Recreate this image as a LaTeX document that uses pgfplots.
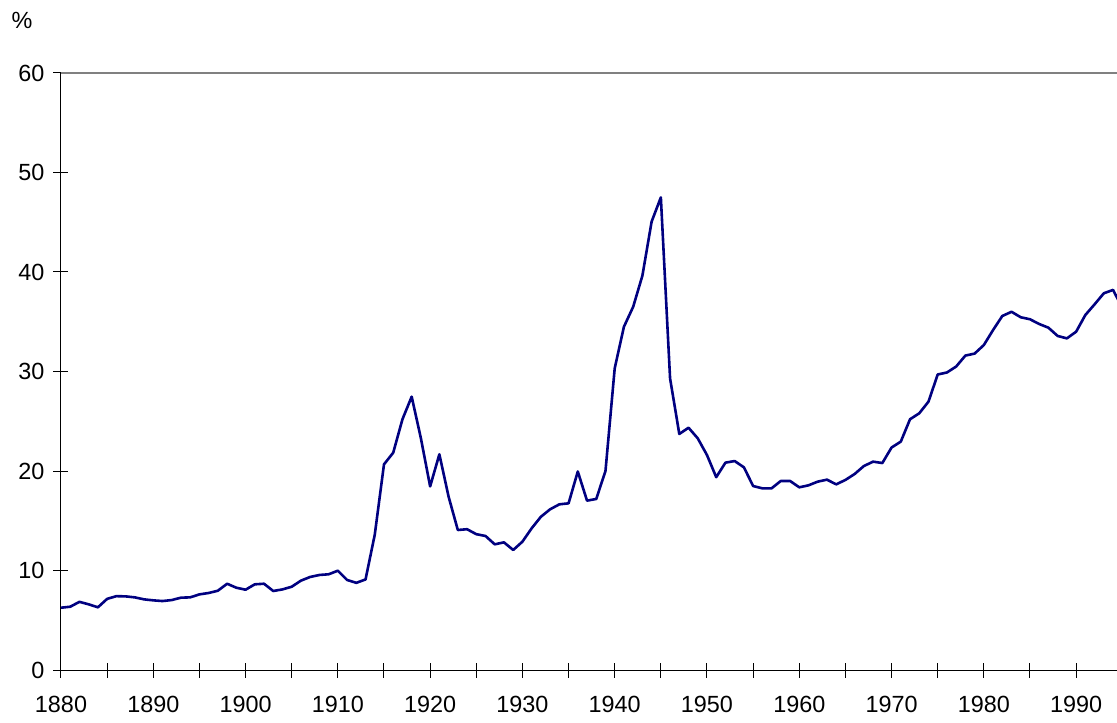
\documentclass[border=0pt]{standalone}
\usepackage{pgfplots}
\pgfplotsset{compat=1.18}
\usepackage{pgfplotstable}
\usepackage{fontspec}
\setmainfont{Liberation Sans}
\definecolor{navyline}{RGB}{0,0,128}
\pgfplotstableread{
year val
1880 6.26
1881 6.36
1882 6.85
1883 6.6
1884 6.3
1885 7.15
1886 7.42
1887 7.4
1888 7.3
1889 7.1
1890 7.0
1891 6.93
1892 7.03
1893 7.27
1894 7.3
1895 7.6
1896 7.74
1897 7.97
1898 8.67
1899 8.27
1900 8.07
1901 8.61
1902 8.67
1903 7.94
1904 8.1
1905 8.37
1906 8.98
1907 9.35
1908 9.55
1909 9.62
1910 9.98
1911 9.05
1912 8.76
1913 9.1
1914 13.6
1915 20.67
1916 21.84
1917 25.2
1918 27.47
1919 23.28
1920 18.45
1921 21.68
1922 17.42
1923 14.07
1924 14.15
1925 13.65
1926 13.47
1927 12.63
1928 12.83
1929 12.06
1930 12.9
1931 14.24
1932 15.4
1933 16.15
1934 16.65
1935 16.75
1936 19.95
1937 17.02
1938 17.19
1939 20.0
1940 30.32
1941 34.5
1942 36.5
1943 39.63
1944 45.06
1945 47.5
1946 29.3
1947 23.72
1948 24.35
1949 23.28
1950 21.6
1951 19.38
1952 20.84
1953 21.0
1954 20.37
1955 18.49
1956 18.26
1957 18.26
1958 19.0
1959 19.0
1960 18.36
1961 18.56
1962 18.93
1963 19.13
1964 18.66
1965 19.1
1966 19.7
1967 20.5
1968 20.94
1969 20.8
1970 22.36
1971 22.95
1972 25.2
1973 25.8
1974 26.97
1975 29.7
1976 29.9
1977 30.5
1978 31.6
1979 31.8
1980 32.66
1981 34.17
1982 35.58
1983 36.0
1984 35.45
1985 35.25
1986 34.77
1987 34.4
1988 33.57
1989 33.33
1990 34.0
1991 35.68
1992 36.75
1993 37.86
1994 38.2
1995 36.4
}\datatable
\begin{document}
\begin{tikzpicture}
\begin{axis}[
  at={(0,0)}, anchor=south west,
  scale only axis,
  width=528pt, height=298.5pt,
  xmin=1880, xmax=1994.43,
  ymin=0, ymax=60,
  axis x line*=bottom, axis y line*=left,
  axis line style={black, line width=0.5pt, -},
  xtick={1880,1890,...,1990},
  minor xtick={1885,1895,...,1995},
  ytick={0,10,...,60},
  tick align=center,
  major tick length=7.5pt,
  minor tick length=7.5pt,
  tick style={black, line width=0.5pt},
  minor tick style={black, line width=0.5pt},
  x tick label style={/pgf/number format/1000 sep={}},
  /pgf/number format/assume math mode=true,
  tick label style={font=\fontsize{11.7}{14}\selectfont},
  xticklabel style={yshift=-6pt},
  yticklabel style={xshift=-1pt},
  clip=true,
]
\addplot[navyline, line width=1.3pt, line join=round] table[x=year, y=val] {\datatable};
\draw[gray, line width=0.8pt] (axis cs:1880,60) -- (axis cs:1994.43,60);
\end{axis}
\node[anchor=center, font=\fontsize{11.7}{14}\selectfont] at (-19.5pt,325pt) {\%};
\pgfresetboundingbox
\path[use as bounding box] (-30.5pt,-26pt) rectangle (528pt,335pt);
\end{tikzpicture}
\end{document}
